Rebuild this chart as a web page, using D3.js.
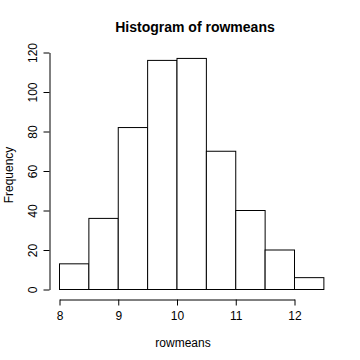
<!DOCTYPE html>
<html><head><meta charset="utf-8">
<script src="https://cdn.jsdelivr.net/npm/d3@7"></script>
<style>body{margin:0;background:#fff}svg{display:block}text{font-family:"Liberation Sans",Arial,sans-serif;fill:#000}</style>
</head><body><div id="c"></div>
<script>
const binStarts = [8, 8.5, 9, 9.5, 10, 10.5, 11, 11.5, 12];
const binWidth = 0.5;
const counts = [13, 36, 82, 116, 117, 70, 40, 20, 6];
const xTicks = [8, 9, 10, 11, 12];
const yTicks = [0, 20, 40, 60, 80, 100, 120];
const title = "Histogram of rowmeans";
const xLabel = "rowmeans";
const yLabel = "Frequency";

const W = 360, H = 360;
const svg = d3.select("#c").append("svg").attr("width", W).attr("height", H);
const x = d3.scaleLinear().domain([8, 12]).range([59.5, 294.5]);
const y = d3.scaleLinear().domain([0, 120]).range([289.5, 52.5]);

svg.append("g").selectAll("rect").data(counts).join("rect")
  .attr("x", (d, i) => x(binStarts[i]))
  .attr("width", (d, i) => x(binStarts[i] + binWidth) - x(binStarts[i]))
  .attr("y", d => y(d))
  .attr("height", d => y(0) - y(d))
  .attr("fill", "#fff").attr("stroke", "#000").attr("stroke-width", 1);

// x axis
const xa = svg.append("g").attr("transform", "translate(0,299.5)")
  .call(d3.axisBottom(x).tickValues(xTicks).tickFormat(d3.format("d")).tickSizeOuter(0).tickSizeInner(6).tickPadding(6));
xa.select(".domain").attr("stroke", "#000");
xa.selectAll("text").attr("font-size", 12).attr("font-family", "Liberation Sans, Arial, sans-serif").attr("dy", "0.71em");

// y axis
const ya = svg.append("g").attr("transform", "translate(49.5,0)")
  .call(d3.axisLeft(y).tickValues(yTicks).tickSizeOuter(0).tickSizeInner(6).tickFormat(d3.format("d")));
ya.selectAll("text").remove();
ya.select(".domain").attr("stroke", "#000");
ya.selectAll(".tick").append("text")
  .attr("transform", "translate(-17,0) rotate(-90)")
  .attr("text-anchor", "middle").attr("dy", "0.35em")
  .attr("font-size", 12).attr("font-family", "Liberation Sans, Arial, sans-serif").attr("fill", "#000")
  .text(d => d);

svg.append("text").attr("x", 195).attr("y", 27).attr("dy", "0.35em")
  .attr("text-anchor", "middle").attr("font-size", 14).attr("font-weight", "bold").text(title);
svg.append("text").attr("x", 183).attr("y", 342.5).attr("dy", "0.35em")
  .attr("text-anchor", "middle").attr("font-size", 12).text(xLabel);
svg.append("text").attr("transform", "translate(8.5,175) rotate(-90)").attr("dy", "0.35em")
  .attr("text-anchor", "middle").attr("font-size", 12).text(yLabel);
</script></body></html>
